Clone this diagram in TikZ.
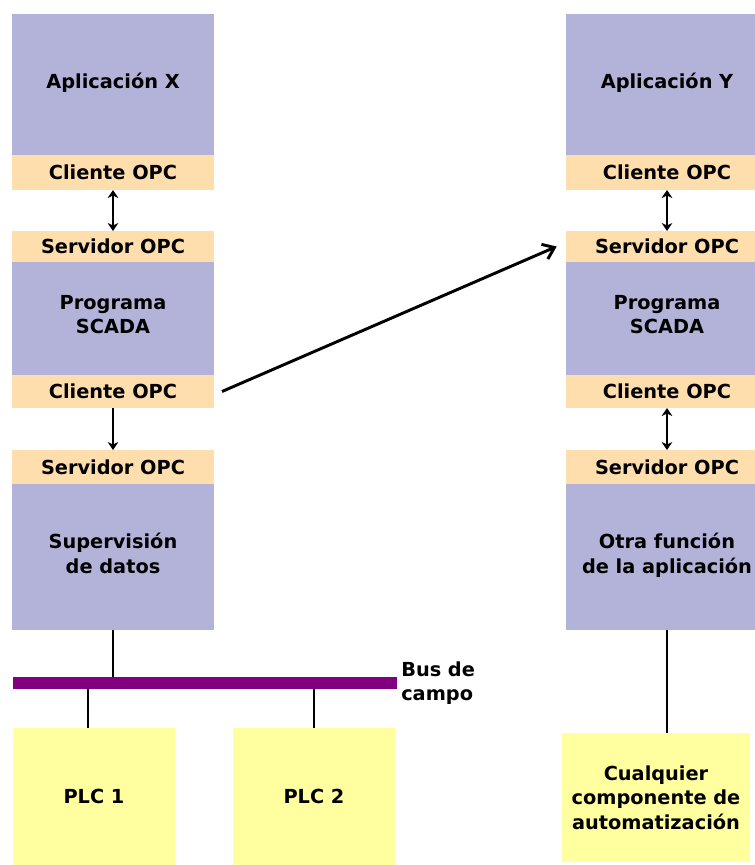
\documentclass[tikz,border=0pt]{standalone}
\usepackage{fontspec}
\setmainfont{DejaVu Sans}
\usepackage{tikz}
\usetikzlibrary{arrows.meta,positioning}
\definecolor{lav}{HTML}{B3B3D9}
\definecolor{peach}{HTML}{FFDEAD}
\definecolor{plcfill}{HTML}{FFFF9F}
\definecolor{fieldbus}{HTML}{800080}
\newcommand{\lbl}{\fontsize{14.5}{18.5}\selectfont\bfseries}

\begin{document}
\begin{tikzpicture}[
  x=0.75pt, y=-0.75pt,
  layer/.style={inner sep=0pt, outer sep=0pt, align=center, minimum width=151.5pt, font=\lbl},
  app/.style={layer, fill=lav, text depth=6pt},
  opc/.style={layer, fill=peach},
  device/.style={fill=plcfill, inner sep=0pt, outer sep=0pt, align=center, font=\lbl},
  wire/.style={line width=2.2pt, draw=black},
  dbl/.style={{Stealth[length=6pt,width=8pt]}-{Stealth[length=6pt,width=8pt]}, line width=2.2pt},
  one/.style={-{Stealth[length=6pt,width=8pt]}, line width=2.2pt},
  longarr/.style={-{Straight Barb[length=8pt,width=12pt]}, line width=2.2pt}
]
\clip (0,0) rectangle (755,865);
% left column
\node[app, minimum height=105.75pt, anchor=north west] (appX) at (12,14) {Aplicación X};
\node[opc, minimum height=26.25pt, below=0pt of appX] (cliX) {Cliente OPC};
\node[opc, minimum height=23.25pt, below=30.75pt of cliX] (servX) {Servidor OPC};
\node[app, minimum height=84.75pt, below=0pt of servX] (scadaX) {Programa\\SCADA};
\node[opc, minimum height=24.75pt, below=0pt of scadaX] (cliS) {Cliente OPC};
\node[opc, minimum height=25.5pt, below=31.5pt of cliS] (servS) {Servidor OPC};
\node[app, minimum height=109.5pt, below=0pt of servS] (superv) {Supervisión\\de datos};
% right column
\node[app, minimum height=105.75pt, anchor=north west] (appY) at (566,14) {Aplicación Y};
\node[opc, minimum height=26.25pt, below=0pt of appY] (cliY) {Cliente OPC};
\node[opc, minimum height=23.25pt, below=30.75pt of cliY] (servY) {Servidor OPC};
\node[app, minimum height=84.75pt, below=0pt of servY] (scadaY) {Programa\\SCADA};
\node[opc, minimum height=24.75pt, below=0pt of scadaY] (cliSY) {Cliente OPC};
\node[opc, minimum height=25.5pt, below=31.5pt of cliSY] (servSY) {Servidor OPC};
\node[app, minimum height=109.5pt, below=0pt of servSY] (otra) {Otra función\\de la aplicación};
% field level
\node[fill=fieldbus, inner sep=0pt, outer sep=0pt, minimum width=288pt, minimum height=9pt, anchor=north west] (bus) at (13,677) {};
\node[right=3pt of bus, inner sep=0pt, align=left, font=\lbl] (buslbl) {Bus de\\campo};
\node[device, minimum width=121.5pt, minimum height=102.75pt, anchor=north west] (plc1) at (13,728) {PLC 1};
\node[device, minimum width=121.5pt, minimum height=102.75pt, anchor=north west] (plc2) at (233,728) {PLC 2};
\node[device, minimum width=141pt, minimum height=96.75pt, anchor=north west] (cualq) at (562,733) {Cualquier\\componente de\\automatización};
% connectors
\draw[dbl] (cliX) -- (servX);
\draw[one] (cliS) -- (servS);
\draw[dbl] (cliY) -- (servY);
\draw[dbl] (cliSY) -- (servSY);
\draw[longarr] ([xshift=6pt]cliS.east) -- ([xshift=-7pt]servY.west);
\draw[wire] (superv.south) -- (superv.south |- bus.north);
\draw[wire] ([xshift=-4.5pt]plc1.north |- bus.south) -- ([xshift=-4.5pt]plc1.north);
\draw[wire] (plc2.north |- bus.south) -- (plc2.north);
\draw[wire] (otra.south) -- (otra.south |- cualq.north);
\end{tikzpicture}
\end{document}
